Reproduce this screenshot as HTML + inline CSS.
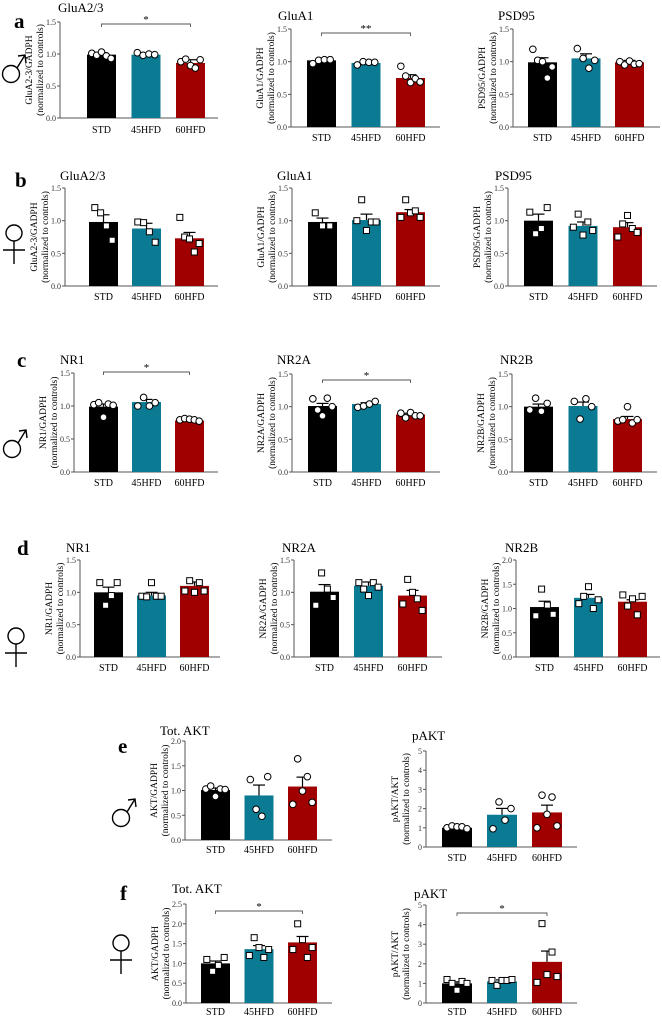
<!DOCTYPE html>
<html><head><meta charset="utf-8"><style>
body{margin:0;background:#fff;}
svg{display:block;font-family:"Liberation Serif",serif;}
</style></head><body>
<svg id="fig" width="662" height="1017" viewBox="0 0 662 1017" xmlns="http://www.w3.org/2000/svg">
<g font-weight="bold" font-size="21" fill="#000">
<text x="14" y="28">a</text>
<text x="15" y="187">b</text>
<text x="17" y="367">c</text>
<text x="17" y="555">d</text>
<text x="118" y="753">e</text>
<text x="120" y="900">f</text>
</g>
<g id="sym" stroke="#000" stroke-width="1.4" fill="none"></g>
</svg>
<script>
const categories = ["STD","45HFD","60HFD"];
const colors = ["#000000","#0b7b93","#a00000"];
const meansA1=[0.99,0.99,0.86], errA1=[0.03,0.01,0.05], ptsA1=[[1.01,0.98,1.03,0.97,0.93],[1.02,0.98,1.0,0.99],[0.88,0.92,0.82,0.78,0.91]];
const meansA2=[1.02,0.98,0.75], errA2=[0.02,0.02,0.05], ptsA2=[[0.97,1.02,1.03,1.03],[0.95,1.0,0.99,0.99],[0.93,0.78,0.68,0.74,0.69]];
const meansA3=[0.99,1.05,0.99], errA3=[0.07,0.07,0.03], ptsA3=[[1.19,1.02,1.0,0.75,0.92],[1.2,1.05,0.9,1.02],[1.0,0.95,1.01,0.96,0.97]];
const meansB1=[0.98,0.88,0.73], errB1=[0.11,0.08,0.09], ptsB1=[[1.2,1.12,0.92,0.7],[0.98,0.97,0.83,0.67],[1.05,0.75,0.72,0.52,0.65]];
const meansB2=[0.98,1.01,1.13], errB2=[0.06,0.09,0.04], ptsB2=[[1.12,0.92,0.92],[1.0,1.32,0.85,0.98,0.98],[1.05,1.32,1.12,1.15,1.05]];
const meansB3=[1.0,0.92,0.9], errB3=[0.1,0.06,0.07], ptsB3=[[1.13,0.8,0.88,1.2],[0.9,1.1,0.78,0.98,0.85],[0.75,0.95,1.08,0.88,0.82]];
const meansC1=[0.99,1.06,0.78], errC1=[0.04,0.04,0.01], ptsC1=[[1.02,1.05,0.83,1.03,1.01],[1.0,1.13,1.0,1.05],[0.79,0.81,0.8,0.79,0.77]];
const meansC2=[1.01,1.04,0.88], errC2=[0.04,0.02,0.02], ptsC2=[[1.12,0.95,0.86,1.13,1.0],[0.99,1.01,1.04,1.08],[0.9,0.83,0.91,0.86,0.86]];
const meansC3=[1.0,1.01,0.81], errC3=[0.04,0.06,0.04], ptsC3=[[0.95,1.13,0.93,1.05],[1.08,0.81,1.12,1.0],[0.78,0.8,1.0,0.75,0.8]];
const meansD1=[1.0,0.95,1.1], errD1=[0.08,0.05,0.06], ptsD1=[[1.15,0.8,0.95,1.15],[0.94,0.93,1.15,0.94,0.94],[1.02,1.18,1.0,1.15,1.02]];
const meansD2=[1.01,1.1,0.95], errD2=[0.11,0.06,0.08], ptsD2=[[0.8,1.3,1.05,0.92],[1.15,1.05,0.95,1.15,1.08],[0.82,1.2,1.0,0.9,0.72]];
const meansD3=[1.03,1.22,1.14], errD3=[0.12,0.07,0.04], ptsD3=[[0.85,1.4,1.07,0.88],[1.1,1.25,1.45,1.0,1.18],[1.28,1.05,1.2,0.87,1.25]];
const meansE1=[1.01,0.9,1.08], errE1=[0.04,0.21,0.19], ptsE1=[[1.03,1.09,0.88,1.03,1.02],[1.22,0.62,0.48,1.28],[0.72,1.64,0.99,1.28,0.76]];
const meansE2=[1.0,1.68,1.8], errE2=[0.03,0.33,0.38], ptsE2=[[1.0,1.1,1.05,1.05,0.95],[0.95,2.35,1.4,2.0],[1.0,2.7,1.7,2.6,1.1]];
const meansF1=[1.0,1.36,1.53], errF1=[0.06,0.09,0.15], ptsF1=[[1.1,0.8,0.95,1.15],[1.2,1.65,1.4,1.15,1.35],[1.35,2.0,1.6,1.15,1.4]];
const meansF2=[1.0,1.1,2.1], errF2=[0.08,0.08,0.55], ptsF2=[[1.2,1.0,0.65,1.1,1.0],[1.15,0.9,1.15,1.15,1.2],[1.05,4.05,1.45,2.6,1.35]];
const ticks15=[0,0.5,1.0,1.5], ticks20=[0,0.5,1.0,1.5,2.0], ticks25=[0,0.5,1.0,1.5,2.0,2.5], ticks5=[0,1,2,3,4,5];

const NS="http://www.w3.org/2000/svg";
const svg=document.getElementById('fig');
function mk(tag,attrs,parent){const e=document.createElementNS(NS,tag);for(const k in attrs)e.setAttribute(k,attrs[k]);parent.appendChild(e);return e;}

const symG=document.getElementById('sym');
function male(cx,cy,name){
  const g=mk('g',{},symG);
  
  
  mk('circle',{cx:cx,cy:cy,r:8.5},g);
  mk('path',{d:`M${cx+6},${cy-6}L${cx+14},${cy-19}M${cx+7},${cy-18}L${cx+14},${cy-19}L${cx+15},${cy-11}`},g);
}
function female(cx,cy,name){
  const g=mk('g',{},symG);
  
  
  mk('circle',{cx:cx,cy:cy,r:8},g);
  mk('path',{d:`M${cx},${cy+8}V${cy+31}M${cx-11},${cy+17}H${cx+11}`},g);
}
male(11,74,'male-symbol-a');
female(14,233,'female-symbol-b');
male(12,449,'male-symbol-c');
female(16,636,'female-symbol-d');
male(121,818,'male-symbol-e');
female(121,943,'female-symbol-f');

function chart(cfg){
  const g=mk('g',{},svg);
  
  
  const ymax=cfg.ticks[cfg.ticks.length-1];
  const y=v=>cfg.y0-(v/ymax)*(cfg.y0-cfg.ytop);
  const bx=i=>cfg.bx+i*cfg.step;
  const t=mk('text',{x:cfg.tx,y:cfg.ty,'font-size':13},g); t.textContent=cfg.title;
  
  
  const ya=mk('line',{x1:cfg.ax,x2:cfg.ax,y1:cfg.ytop,y2:cfg.y0,stroke:'#555','stroke-width':1},g);
  
  
  const xa=mk('line',{x1:cfg.ax,x2:cfg.end,y1:cfg.y0,y2:cfg.y0,stroke:'#555','stroke-width':1},g);
  
  
  cfg.ticks.forEach(v=>{
    mk('line',{x1:cfg.ax-3,x2:cfg.ax,y1:y(v),y2:y(v),stroke:'#555'},g);
    const tl=mk('text',{x:cfg.ax-4,y:y(v)+3,'font-size':8,'text-anchor':'end',fill:'#333'},g);
    tl.textContent=cfg.fmt?cfg.fmt(v):v.toFixed(1);
    
    
  });
  const cy=(cfg.ytop+cfg.y0)/2;
  const yl=mk('text',{transform:`translate(${cfg.ax-28},${cy}) rotate(-90)`,'font-size':9.5,'text-anchor':'middle'},g);
  
  
  const s1=mk('tspan',{x:0,dy:0},yl); s1.textContent=cfg.ylabel;
  const s2=mk('tspan',{x:0,dy:11},yl); s2.textContent='(normalized to controls)';
  categories.forEach((c,i)=>{
    const x0=bx(i);
    const r=mk('rect',{x:x0,y:y(cfg.means[i]),width:cfg.bw,height:cfg.y0-y(cfg.means[i]),fill:colors[i]},g);
    
    
    const cx=x0+cfg.bw/2, top=y(cfg.means[i]+cfg.errs[i]);
    mk('line',{x1:cx,x2:cx,y1:y(cfg.means[i]),y2:top,stroke:'#000','stroke-width':1.2},g);
    const cap=mk('line',{x1:cx-6,x2:cx+6,y1:top,y2:top,stroke:'#000','stroke-width':1.2},g);
    
    
    const pts=cfg.pts[i], n=pts.length;
    pts.forEach((v,j)=>{
      const px=x0+cfg.bw*(j+1)/(n+1), py=y(v);
      let m;
      if(cfg.sq) m=mk('rect',{x:px-3,y:py-3,width:6,height:6,fill:'#fff',stroke:'#000','stroke-width':1},g);
      else m=mk('circle',{cx:px,cy:py,r:3.3,fill:'#fff',stroke:'#000','stroke-width':1},g);
      
      
    });
    const lb=mk('text',{x:cx,y:cfg.ly,'font-size':10,'text-anchor':'middle'},g);
    lb.textContent=c;
    
    
  });
  if(cfg.sig){
    const x1=bx(0)+cfg.bw/2, x2=bx(2)+cfg.bw/2;
    const sl=mk('path',{d:`M${x1},${cfg.sig.y+3}V${cfg.sig.y}H${x2}V${cfg.sig.y+3}`,stroke:'#555',fill:'none','stroke-width':0.9},g);
    
    
    const st=mk('text',{x:(x1+x2)/2,y:cfg.sig.y-1,'font-size':11,'text-anchor':'middle'},g);
    st.textContent=cfg.sig.s;
    
    
  }
}
const bw=29;
chart({name:'chart-a-glua23',title:'GluA2/3',tx:58,ty:12,ax:60,ytop:22,y0:118,bx:87,step:44.5,bw,end:218,ly:133,ticks:ticks15,ylabel:'GluA2-3/GADPH',means:meansA1,errs:errA1,pts:ptsA1,sig:{y:24,s:'*'}});
chart({name:'chart-a-glua1',title:'GluA1',tx:278,ty:20,ax:291,ytop:29,y0:127,bx:307,step:44.5,bw,end:440,ly:141,ticks:ticks15,ylabel:'GluA1/GADPH',means:meansA2,errs:errA2,pts:ptsA2,sig:{y:33,s:'**'}});
chart({name:'chart-a-psd95',title:'PSD95',tx:498,ty:20,ax:513,ytop:29,y0:127,bx:528,step:43.5,bw,end:660,ly:141,ticks:ticks15,ylabel:'PSD95/GADPH',means:meansA3,errs:errA3,pts:ptsA3});
chart({name:'chart-b-glua23',title:'GluA2/3',tx:60,ty:180,ax:65,ytop:188,y0:286,bx:89,step:43,bw,end:218,ly:300,ticks:ticks15,ylabel:'GluA2-3/GADPH',means:meansB1,errs:errB1,pts:ptsB1,sq:true});
chart({name:'chart-b-glua1',title:'GluA1',tx:277,ty:180,ax:292,ytop:188,y0:286,bx:308,step:44,bw,end:440,ly:300,ticks:ticks15,ylabel:'GluA1/GADPH',means:meansB2,errs:errB2,pts:ptsB2,sq:true});
chart({name:'chart-b-psd95',title:'PSD95',tx:495,ty:180,ax:508,ytop:188,y0:286,bx:524,step:44.5,bw,end:657,ly:300,ticks:ticks15,ylabel:'PSD95/GADPH',means:meansB3,errs:errB3,pts:ptsB3,sq:true});
chart({name:'chart-c-nr1',title:'NR1',tx:60,ty:364,ax:74,ytop:373,y0:472,bx:89,step:43,bw,end:218,ly:486,ticks:ticks15,ylabel:'NR1/GADPH',means:meansC1,errs:errC1,pts:ptsC1,sig:{y:372,s:'*'}});
chart({name:'chart-c-nr2a',title:'NR2A',tx:277,ty:364,ax:292,ytop:374,y0:472,bx:308,step:44,bw,end:440,ly:486,ticks:ticks15,ylabel:'NR2A/GADPH',means:meansC2,errs:errC2,pts:ptsC2,sig:{y:380,s:'*'}});
chart({name:'chart-c-nr2b',title:'NR2B',tx:500,ty:364,ax:512,ytop:374,y0:472,bx:524,step:44.5,bw,end:657,ly:486,ticks:ticks15,ylabel:'NR2B/GADPH',means:meansC3,errs:errC3,pts:ptsC3});
chart({name:'chart-d-nr1',title:'NR1',tx:66,ty:552,ax:80,ytop:560,y0:657,bx:94,step:43,bw,end:220,ly:671,ticks:ticks15,ylabel:'NR1/GADPH',means:meansD1,errs:errD1,pts:ptsD1,sq:true});
chart({name:'chart-d-nr2a',title:'NR2A',tx:282,ty:552,ax:294,ytop:560,y0:657,bx:310,step:44,bw,end:442,ly:671,ticks:ticks15,ylabel:'NR2A/GADPH',means:meansD2,errs:errD2,pts:ptsD2,sq:true});
chart({name:'chart-d-nr2b',title:'NR2B',tx:505,ty:552,ax:516,ytop:560,y0:657,bx:530,step:44,bw,end:660,ly:671,ticks:ticks20,ylabel:'NR2B/GADPH',means:meansD3,errs:errD3,pts:ptsD3,sq:true});
chart({name:'chart-e-totakt',title:'Tot. AKT',tx:160,ty:735,ax:185,ytop:741,y0:840,bx:201,step:43.5,bw,end:332,ly:853,ticks:ticks20,ylabel:'AKT/GADPH',means:meansE1,errs:errE1,pts:ptsE1});
chart({name:'chart-e-pakt',title:'pAKT',tx:412,ty:740,ax:426,ytop:751,y0:847,bx:442,step:45,bw:30,end:577,ly:861,ticks:ticks5,fmt:v=>String(v),ylabel:'pAKT/AKT',means:meansE2,errs:errE2,pts:ptsE2});
chart({name:'chart-f-totakt',title:'Tot. AKT',tx:172,ty:893,ax:186,ytop:904,y0:1003,bx:201,step:43.5,bw,end:332,ly:1015,ticks:ticks25,ylabel:'AKT/GADPH',means:meansF1,errs:errF1,pts:ptsF1,sq:true,sig:{y:911,s:'*'}});
chart({name:'chart-f-pakt',title:'pAKT',tx:414,ty:898,ax:426,ytop:905,y0:1003,bx:442,step:45,bw:30,end:577,ly:1015,ticks:ticks5,fmt:v=>String(v),ylabel:'pAKT/AKT',means:meansF2,errs:errF2,pts:ptsF2,sq:true,sig:{y:913,s:'*'}});
</script>
</body></html>
